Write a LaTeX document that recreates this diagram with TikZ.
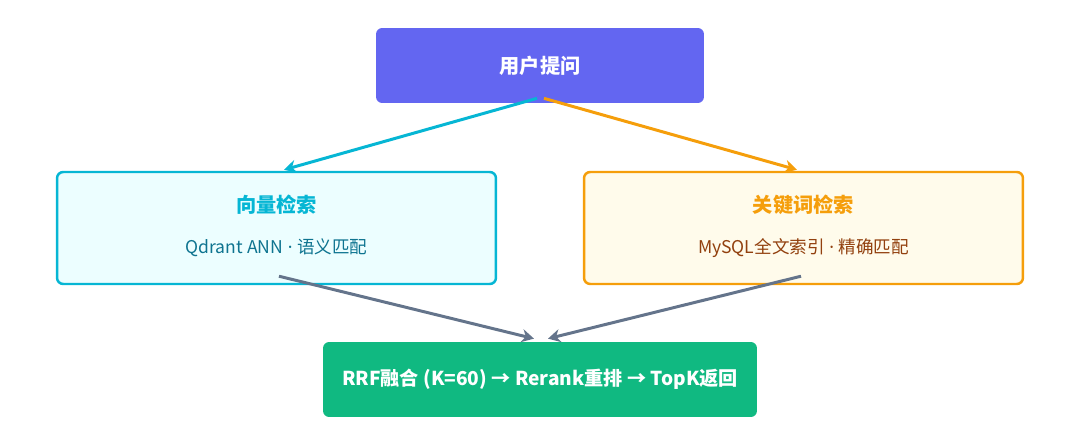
\documentclass[tikz,border=0pt]{standalone}
\usepackage{fontspec}
\setmainfont{Noto Sans CJK SC}
\newfontfamily\latinfont{Noto Sans}
\usetikzlibrary{arrows.meta}

\definecolor{askfill}{HTML}{6366F1}
\definecolor{vecline}{HTML}{06B6D4}
\definecolor{vecfill}{HTML}{ECFEFF}
\definecolor{vectext}{HTML}{0E7490}
\definecolor{kwline}{HTML}{F59E0B}
\definecolor{kwfill}{HTML}{FFFBEB}
\definecolor{kwtext}{HTML}{92400E}
\definecolor{fusefill}{HTML}{10B981}
\definecolor{joinline}{HTML}{64748B}

\newcommand{\middot}{{\latinfont\ ·\ }}

\begin{document}
\begin{tikzpicture}[x=0.02cm, y=-0.02cm,
  solidbox/.style={rounded corners=3.5pt, inner sep=0pt, text=white,
    font=\bfseries\fontsize{11.5}{13}\selectfont},
  searchbox/.style={rounded corners=3.5pt, line width=1.4pt, inner sep=0pt,
    minimum width=8.78cm, minimum height=2.24cm},
  flow/.style={line width=1.7pt, -{Stealth[length=7pt, width=7.5pt]}}]

  % Canvas (1080 x 446 px)
  \useasboundingbox (0, 0) rectangle (1080, 446);

  % Question
  \node[solidbox, fill=askfill, minimum width=6.56cm, minimum height=1.5cm]
    (ask) at (540, 65.5) {用户提问};

  % Vector search
  \node[searchbox, draw=vecline, fill=vecfill] (vec) at (276.5, 228) {};
  \node[text=vecline, font=\bfseries\fontsize{11.5}{13}\selectfont]
    (vectitle) at (276.5, 205) {向量检索};
  \node[text=vectext, font=\fontsize{10}{12}\selectfont]
    (vecsub) at (276.5, 248) {Qdrant ANN\middot 语义匹配};

  % Keyword search
  \node[searchbox, draw=kwline, fill=kwfill] (kw) at (803.5, 228) {};
  \node[text=kwline, font=\bfseries\fontsize{11.5}{13}\selectfont]
    (kwtitle) at (803.5, 205) {关键词检索};
  \node[text=kwtext, font=\fontsize{10}{12}\selectfont]
    (kwsub) at (803.5, 248) {MySQL全文索引\middot 精确匹配};

  % Fusion
  \node[solidbox, fill=fusefill, minimum width=8.68cm, minimum height=1.5cm,
    font=\bfseries\fontsize{10.9}{13}\selectfont]
    (fuse) at (540, 379.5) {RRF融合 (K=60) → Rerank重排 → TopK返回};

  % Arrows
  \draw[flow, vecline] ([shift={(-3, -5)}]ask.south) -- ([shift={(7.5, -1)}]vec.north);
  \draw[flow, kwline] ([shift={(4, -5)}]ask.south) -- ([shift={(-6.5, -1)}]kw.north);
  \draw[flow, joinline] ([shift={(2.5, -9)}]vec.south) -- ([shift={(-6, -3)}]fuse.north);
  \draw[flow, joinline] ([shift={(-2.5, -9)}]kw.south) -- ([shift={(8, -3)}]fuse.north);

\end{tikzpicture}
\end{document}
